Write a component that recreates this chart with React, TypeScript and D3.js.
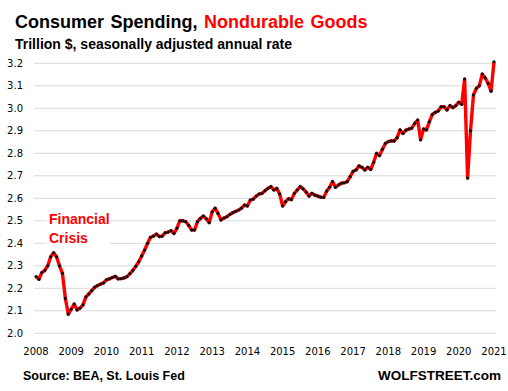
import React from "react";
import * as d3 from "d3";

const yearLabels = ["2008","2009","2010","2011","2012","2013","2014","2015","2016","2017","2018","2019","2020","2021"];
const yTicks = [2.0, 2.1, 2.2, 2.3, 2.4, 2.5, 2.6, 2.7, 2.8, 2.9, 3.0, 3.1, 3.2];

const v2008 = [2.252, 2.24, 2.27, 2.28, 2.30, 2.34, 2.358, 2.34, 2.30, 2.267, 2.155, 2.085];
const v2009 = [2.107, 2.13, 2.104, 2.112, 2.126, 2.162, 2.175, 2.19, 2.205, 2.212, 2.219, 2.224];
const v2010 = [2.238, 2.242, 2.248, 2.253, 2.242, 2.243, 2.246, 2.252, 2.265, 2.28, 2.298, 2.318];
const v2011 = [2.344, 2.37, 2.40, 2.427, 2.432, 2.441, 2.43, 2.432, 2.447, 2.45, 2.456, 2.444];
const v2012 = [2.467, 2.50, 2.50, 2.496, 2.48, 2.459, 2.459, 2.496, 2.511, 2.521, 2.509, 2.492];
const v2013 = [2.54, 2.556, 2.533, 2.504, 2.512, 2.518, 2.528, 2.536, 2.542, 2.548, 2.556, 2.57];
const v2014 = [2.566, 2.592, 2.596, 2.61, 2.619, 2.622, 2.634, 2.644, 2.652, 2.637, 2.644, 2.619];
const v2015 = [2.566, 2.585, 2.598, 2.594, 2.622, 2.637, 2.652, 2.642, 2.628, 2.61, 2.622, 2.614];
const v2016 = [2.61, 2.605, 2.604, 2.632, 2.649, 2.674, 2.649, 2.659, 2.667, 2.669, 2.674, 2.696];
const v2017 = [2.72, 2.726, 2.744, 2.738, 2.726, 2.738, 2.728, 2.76, 2.80, 2.79, 2.818, 2.844];
const v2018 = [2.852, 2.855, 2.855, 2.87, 2.904, 2.888, 2.903, 2.908, 2.912, 2.933, 2.948, 2.86];
const v2019 = [2.908, 2.904, 2.941, 2.973, 2.982, 2.988, 3.007, 3.007, 2.993, 3.012, 3.003, 3.012];
const v2020 = [3.027, 3.018, 3.13, 2.69, 2.90, 3.059, 3.089, 3.10, 3.152, 3.135, 3.111, 3.076];
const v2021 = [3.207];

const values = [
  ...v2008, ...v2009, ...v2010, ...v2011, ...v2012, ...v2013, ...v2014,
  ...v2015, ...v2016, ...v2017, ...v2018, ...v2019, ...v2020, ...v2021,
];

export default function App() {
  const W = 508, H = 391;
  const x = d3.scaleLinear().domain([0, 156]).range([36, 494]);
  const y = d3.scaleLinear().domain([2.0, 3.2]).range([333.3, 63.3]);
  const line = d3.line<number>().x((_, i) => x(i)).y((d) => y(d));
  const font = "'DejaVu Sans', Verdana, sans-serif";
  const bold = "'Liberation Sans', Arial, sans-serif";

  return (
    <svg width={W} height={H} style={{ position: "absolute", left: 0, top: 0, background: "#fff" }} fontFamily={font}>
      <rect width={W} height={H} fill="#fff" />
      <text x={15} y={28} fontSize={18} fontWeight="bold" fill="#000" fontFamily={bold} wordSpacing={1.5}>
        Consumer Spending, <tspan fill="#ff0000">Nondurable Goods</tspan>
      </text>
      <text x={15} y={49} fontSize={14} fontWeight="bold" fill="#000" fontFamily={bold}>
        Trillion $, seasonally adjusted annual rate
      </text>

      {yTicks.map((t) => (
        <g key={t}>
          <line x1={34} x2={496} y1={y(t)} y2={y(t)} stroke="#d9d9d9" strokeWidth={1} />
          <text x={23} y={y(t) + 3.5} fontSize={10} textAnchor="end" fill="#000">{t.toFixed(1)}</text>
        </g>
      ))}

      {yearLabels.map((l, i) => (
        <text key={l} x={x(i * 12)} y={355} fontSize={10} textAnchor="middle" fill="#000">{l}</text>
      ))}

      <rect x={47} y={210} width={63} height={35} fill="#fff" />
      <text x={49} y={224} fontSize={14} fontWeight="bold" fill="#ff0000" fontFamily={bold}>Financial</text>
      <text x={49} y={242.5} fontSize={14} fontWeight="bold" fill="#ff0000" fontFamily={bold}>Crisis</text>

      <path d={line(values) || ""} fill="none" stroke="#ff0000" strokeWidth={3.4} strokeLinejoin="round" />
      {values.map((v, i) => (
        <circle key={i} cx={x(i)} cy={y(v)} r={1.6} fill="#111" />
      ))}

      <text x={23} y={380} fontSize={12.5} fontWeight="bold" fill="#000" fontFamily={bold}>Source: BEA, St. Louis Fed</text>
      <text x={501} y={380} fontSize={13.5} fontWeight="bold" fill="#000" textAnchor="end" fontFamily={bold}>WOLFSTREET.com</text>
    </svg>
  );
}
